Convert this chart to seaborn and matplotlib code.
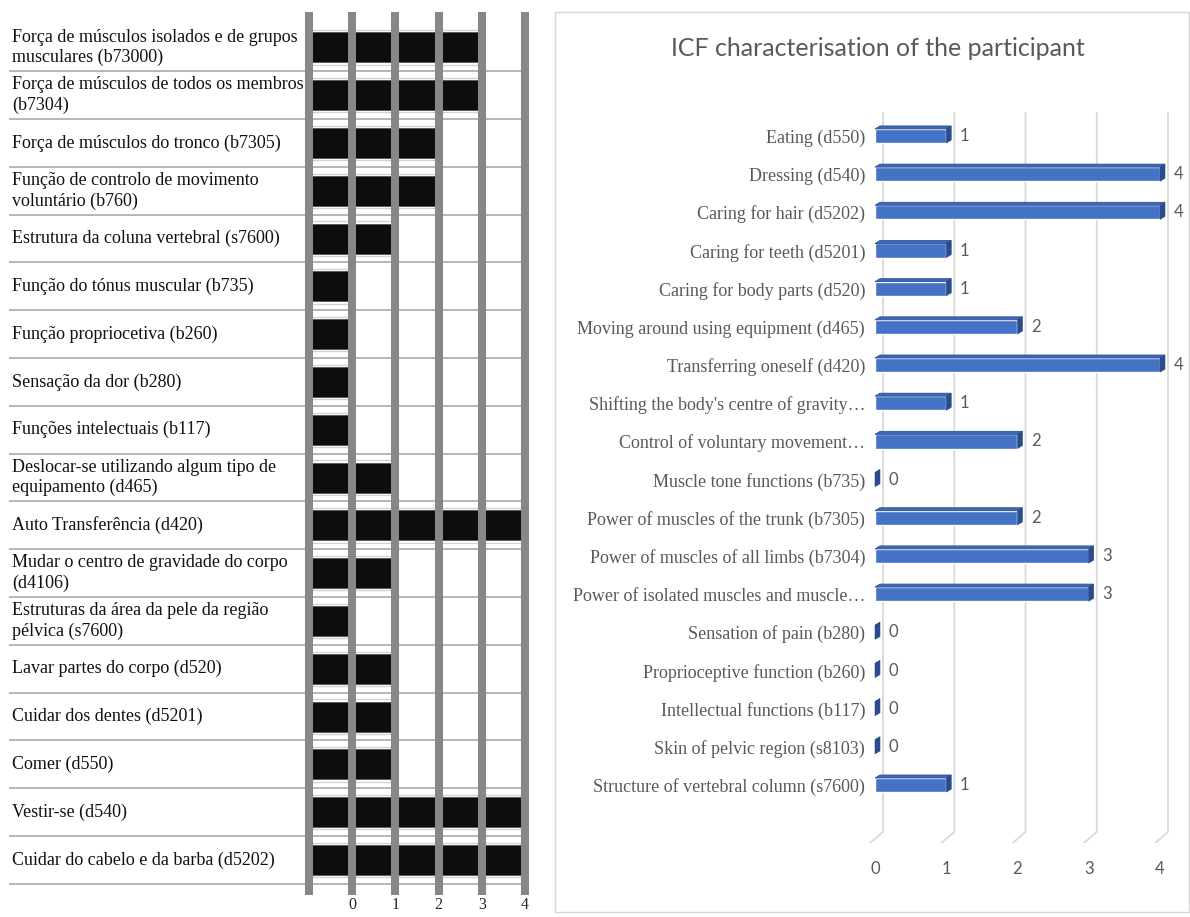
import matplotlib
matplotlib.use("Agg")
import matplotlib.pyplot as plt
from matplotlib.patches import Polygon, Rectangle
import seaborn as sns

# ---- data -----------------------------------------------------------------
pt_labels = [
    "Força de músculos isolados e de grupos\nmusculares (b73000)",
    "Força de músculos de todos os membros\n(b7304)",
    "Força de músculos do tronco (b7305)",
    "Função de controlo de movimento\nvoluntário (b760)",
    "Estrutura da coluna vertebral (s7600)",
    "Função do tónus muscular (b735)",
    "Função propriocetiva (b260)",
    "Sensação da dor (b280)",
    "Funções intelectuais (b117)",
    "Deslocar-se utilizando algum tipo de\nequipamento (d465)",
    "Auto Transferência (d420)",
    "Mudar o centro de gravidade do corpo\n(d4106)",
    "Estruturas da área da pele da região\npélvica (s7600)",
    "Lavar partes do corpo (d520)",
    "Cuidar dos dentes (d5201)",
    "Comer (d550)",
    "Vestir-se (d540)",
    "Cuidar do cabelo e da barba (d5202)",
]
pt_scores = [3, 3, 2, 2, 1, 0, 0, 0, 0, 1, 4, 1, 0, 1, 1, 1, 4, 4]

en_labels = [
    "Eating (d550)",
    "Dressing (d540)",
    "Caring for hair (d5202)",
    "Caring for teeth (d5201)",
    "Caring for body parts (d520)",
    "Moving around using equipment (d465)",
    "Transferring oneself (d420)",
    "Shifting the body's centre of gravity…",
    "Control of voluntary movement…",
    "Muscle tone functions (b735)",
    "Power of muscles of the trunk (b7305)",
    "Power of muscles of all limbs (b7304)",
    "Power of isolated muscles and muscle…",
    "Sensation of pain (b280)",
    "Proprioceptive function (b260)",
    "Intellectual functions (b117)",
    "Skin of pelvic region (s8103)",
    "Structure of vertebral column (s7600)",
]
en_scores = [1, 4, 4, 1, 1, 2, 4, 1, 2, 0, 2, 3, 3, 0, 0, 0, 0, 1]

scale_ticks = [0, 1, 2, 3, 4]
chart_title = "ICF characterisation of the participant"

# ---- figure ---------------------------------------------------------------
sns.set_style("white")
plt.rcParams["font.family"] = ["DejaVu Sans"]

W, H = 1190, 917
fig = plt.figure(figsize=(W / 100, H / 100), dpi=100)


def px_axes(x0, y0, x1, y1):
    """Axes placed by a pixel box measured from the top-left corner."""
    return fig.add_axes([x0 / W, 1 - y1 / H, (x1 - x0) / W, (y1 - y0) / H])


SERIF = "Liberation Serif"
SANS = "Lato"
GREY_TXT = "#595959"

# ---- left panel: block scale ---------------------------------------------
axL = px_axes(8, 12, 530, 895)
unit = 43.2
axL.set_xlim(-1 - (309 - 8) / unit, -1 + (530 - 309) / unit)
pitch = 47.8
axL.set_ylim((895 - 47.4) / pitch, (12 - 47.4) / pitch)
rows = list(range(len(pt_labels)))

# light frame round every block row
for i, v in zip(rows, pt_scores):
    axL.add_patch(Rectangle((-1, i - 0.36), v + 1, 0.72, facecolor="white",
                            edgecolor="#d2d2d2", lw=1.0, zorder=1))
axL.barh(rows, [v + 1 for v in pt_scores], left=-1, height=0.63,
         color="#0d0d0d", edgecolor="#555555", lw=0.6, zorder=2)

axL.hlines([i + 0.5 for i in rows], -1 - (309 - 9) / unit, 4,
           color="#b0b0b0", lw=1.3, zorder=1.5)
axL.vlines(range(-1, 5), *axL.get_ylim(), color="#878787", lw=5.8, zorder=3)

for i, lab in zip(rows, pt_labels):
    axL.text(-1 - (309 - 12) / unit, i, lab, ha="left", va="center",
             family=SERIF, fontsize=13, color="#111111", linespacing=1.25)

axL.set_xticks(scale_ticks)
axL.set_xticklabels([str(t) for t in scale_ticks], family=SERIF, fontsize=11.5)
axL.tick_params(axis="x", length=0, pad=1.5)
axL.set_yticks([])
for s in axL.spines.values():
    s.set_visible(False)

# ---- right panel: 3-D style bar chart -------------------------------------
fig.patches.append(Rectangle((555 / W, 1 - 912 / H), (1189 - 555) / W, 900 / H,
                             transform=fig.transFigure, fill=False,
                             edgecolor="#d6d6d6", lw=1.0))
fig.text(878 / W, 1 - 48 / H, chart_title, ha="center", va="center",
         family=SANS, fontsize=18, color=GREY_TXT)

u2 = 71.25
row2 = 38.18
axR = px_axes(875 - 0.12 * u2, 136 - 0.7 * row2, 875 + 4.3 * u2, 136 + 18.52 * row2)
sns.barplot(x=en_scores, y=en_labels, orient="h", color="#4472C4",
            saturation=1, width=0.37, ax=axR, zorder=3)
axR.set_xlim(-0.12, 4.3)
axR.set_ylim(18.52, -0.7)

depth_x = 5 / u2
depth_y = -3 / row2
for bar, v in zip(axR.patches, en_scores):
    x0 = bar.get_x()
    x1 = x0 + bar.get_width()
    yt = bar.get_y()
    yb = yt + bar.get_height()
    top = Polygon([(x0, yt), (x1, yt), (x1 + depth_x, yt + depth_y),
                   (x0 + depth_x, yt + depth_y)], closed=True,
                  facecolor="#3d67b8", edgecolor="#2f528f", lw=0.6, zorder=3)
    side = Polygon([(x1, yt), (x1 + depth_x, yt + depth_y),
                    (x1 + depth_x, yb + depth_y), (x1, yb)], closed=True,
                   facecolor="#2b4c8c", edgecolor="#2b4c8c", lw=0.4, zorder=3)
    axR.add_patch(top)
    axR.add_patch(side)
    axR.annotate(str(v), xy=(x1 + depth_x, (yt + yb) / 2), xytext=(6, 0),
                 textcoords="offset points", ha="left", va="center",
                 family=SANS, fontsize=12, color=GREY_TXT)

# back-wall gridlines with their floor segments
for t in scale_ticks:
    axR.plot([t + 8 / u2, t + 8 / u2, t - 5 / u2], [-0.63, 18.23, 18.52],
             color="#d9d9d9", lw=1.3, zorder=1, solid_capstyle="butt")

axR.set_xticks(scale_ticks)
axR.set_xticklabels([str(t) for t in scale_ticks], family=SANS, fontsize=12,
                    color=GREY_TXT)
axR.tick_params(axis="x", length=0, pad=13)
axR.tick_params(axis="y", length=0, pad=1)
for lab in axR.get_yticklabels():
    lab.set_family(SERIF)
    lab.set_fontsize(13)
    lab.set_color(GREY_TXT)
axR.set_xlabel("")
axR.set_ylabel("")
for s in axR.spines.values():
    s.set_visible(False)

fig.savefig("out.png", dpi=100, facecolor="white")
